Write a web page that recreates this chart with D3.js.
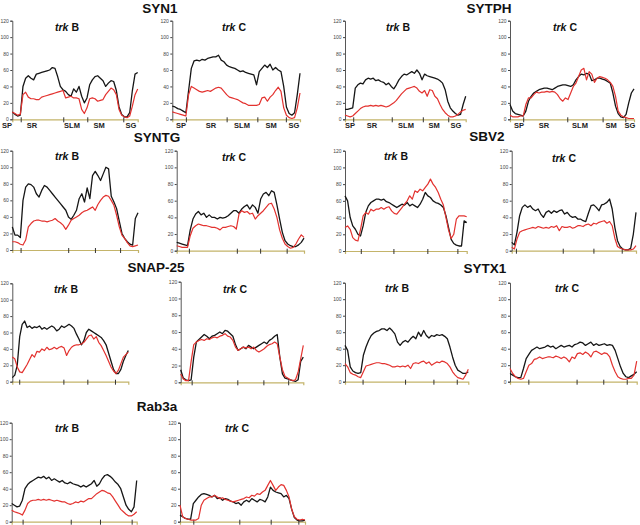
<!DOCTYPE html>
<html><head><meta charset="utf-8">
<script src="https://cdn.jsdelivr.net/npm/d3@7"></script>
<style>html,body{margin:0;padding:0;background:#fff;} svg{display:block;}</style>
</head><body>
<svg id="c" width="640" height="525"></svg>
<script>
const proteins = ['SYN1','SYTPH','SYNTG','SBV2','SNAP-25','SYTX1','Rab3a'];
const conditions = ['B','C'];
const yTicks = [0,20,40,60,80,100,120];
const layerLabels = ['SP','SR','SLM','SM','SG'];

// SYN1
const syn1B_black = [9,6,4,5,40,50,53,50,48,55,56,57,58,59,60,63,62,52,40,36,34,30,28,37,33,40,28,20,26,42,48,52,53,50,47,40,44,47,46,35,15,6,3,3,8,35,55,57];
const syn1B_red   = [9,7,5,6,30,33,27,25,25,24,24,27,28,29,30,31,32,33,34,35,26,27,28,26,26,25,12,7,14,25,26,25,22,23,24,30,34,38,36,30,12,5,3,2,4,16,30,37];
const syn1B_bounds = [3.15,19.1,28.1,41.6];
const syn1C_black = [16,15,13,12,10,8,35,62,71,72,71,73,72,74,75,76,76,78,72,70,66,64,63,62,60,58,59,57,56,55,54,42,58,62,66,63,67,60,63,60,58,40,15,7,5,8,30,56];
const syn1C_red   = [9,8,7,6,5,4,30,40,38,36,34,33,34,35,34,36,38,39,38,34,30,27,26,25,24,22,20,19,17,17,17,17,18,26,27,22,27,30,35,39,34,14,5,2,1,2,14,32];
const syn1C_bounds = [5.0,20.0,31.3,41.8];
// SYTPH
const sytphB_black = [12,12,13,14,38,42,44,43,48,50,49,50,47,48,46,45,42,44,40,37,42,48,52,55,54,56,58,56,60,56,48,55,53,52,51,50,49,47,44,36,22,14,10,7,5,6,18,28];
const sytphB_red   = [5,4,3,4,7,10,13,15,16,16,17,16,17,16,17,16,15,16,18,20,23,27,31,34,37,38,39,40,38,34,32,35,28,36,35,28,25,18,12,8,5,3,3,4,6,9,11,12];
const sytphB_bounds = [3.2,18.2,30.3,40.2];
const sytphC_black = [18,10,7,6,5,4,10,22,28,32,34,36,37,38,38,37,36,38,40,41,42,42,41,40,42,48,52,55,54,56,55,47,48,50,50,49,48,46,44,32,16,7,3,2,6,20,32,37];
const sytphC_red   = [5,3,3,3,4,4,18,26,26,30,33,32,33,33,34,33,34,33,30,25,22,26,24,32,40,44,52,60,62,48,58,55,45,50,52,51,50,48,45,40,28,10,5,3,2,1,1,1];
const sytphC_bounds = [5.0,21.7,35.1,43.7];
// SYNTG
const syntgB_black = [28,18,18,15,60,76,80,79,76,68,64,72,78,76,72,68,64,60,56,52,48,40,37,42,48,62,68,58,75,62,90,95,90,84,92,100,98,65,58,50,35,20,14,10,7,6,38,45];
const syntgB_red   = [10,10,9,7,6,12,28,32,35,36,36,35,35,34,35,36,38,35,33,30,25,30,36,38,40,42,45,47,48,50,52,48,55,60,64,66,65,60,54,42,28,18,14,9,5,4,5,6];
const syntgB_bounds = [3.1,20.9,30.9,40.3];
const syntgC_black = [10,9,8,7,6,25,38,44,47,43,45,40,43,40,40,38,40,39,40,42,45,48,48,45,50,53,55,50,55,52,45,62,68,70,66,72,70,55,38,22,12,8,6,5,5,7,10,15];
const syntgC_red   = [6,5,4,4,4,18,27,30,32,31,30,30,29,28,28,27,25,28,28,29,30,29,26,44,48,46,47,44,45,38,42,45,48,52,56,57,50,40,25,15,8,5,3,4,8,14,19,16];
const syntgC_bounds = [4.5,22.2,30.8,40.6];
// SBV2
const sbv2B_black = [66,60,40,30,26,20,18,30,46,54,58,60,62,62,61,62,59,58,56,54,52,54,56,55,58,54,56,54,52,56,62,70,66,64,60,58,57,55,52,42,28,14,9,7,6,6,36,34];
const sbv2B_red   = [28,30,26,16,13,12,26,42,46,44,50,48,50,50,52,50,52,53,48,45,44,48,52,56,60,66,62,72,70,74,72,76,80,86,80,76,70,62,55,40,25,15,20,38,42,42,42,41];
const sbv2B_bounds = [6.1,18.7,31.8,43.4];
const sbv2C_black = [10,7,22,42,52,55,52,54,50,48,50,44,40,46,48,45,48,46,48,49,44,46,42,40,41,38,38,36,35,45,54,55,52,48,55,56,58,62,50,28,12,5,2,1,1,3,20,46];
const sbv2C_red   = [4,2,14,22,24,25,26,27,28,27,29,28,27,28,27,29,28,30,24,29,28,28,29,27,28,30,30,29,31,32,30,33,32,34,35,36,33,35,30,15,5,3,2,1,1,1,2,6];
const sbv2C_bounds = [1.6,19.3,30.9,41.6];
// SNAP-25
const snapB_black = [5,8,20,55,70,74,66,68,65,67,66,68,64,66,64,66,68,66,62,64,68,66,68,70,68,65,58,52,45,50,60,64,62,60,58,56,54,50,45,35,25,15,10,10,15,25,32,38];
const snapB_red   = [30,28,18,12,11,16,21,27,33,30,37,36,40,38,42,39,40,42,40,42,43,41,32,38,42,44,45,45,46,48,52,56,57,52,55,48,44,38,32,25,18,13,10,14,22,30,33,36];
const snapB_bounds = [2.8,20.7,30.4,41.6];
const snapC_black = [15,5,3,2,3,30,48,51,54,57,55,52,55,56,58,60,58,62,61,58,55,45,38,40,42,40,44,42,40,42,44,46,48,46,50,52,55,57,30,10,5,4,3,2,1,3,25,30];
const snapC_red   = [10,4,2,2,25,45,48,50,51,50,52,51,53,54,53,55,56,58,55,54,50,42,38,40,42,41,42,40,42,38,36,38,40,43,45,46,48,46,30,15,7,5,3,2,3,12,28,44];
const snapC_bounds = [4.2,21.7,31.7,41.2];
// SYTX1
const sytx1B_black = [44,38,18,13,11,10,11,32,42,50,56,59,61,62,64,64,62,65,62,58,48,44,48,50,48,52,55,52,60,55,62,56,53,56,55,57,56,57,55,52,42,30,20,14,12,10,10,12];
const sytx1B_red   = [22,18,11,9,8,6,5,12,19,20,21,22,23,23,22,22,21,20,18,18,19,18,19,18,20,16,22,23,22,24,25,22,24,20,22,24,23,25,24,22,18,12,8,5,4,3,8,15];
const sytx1B_bounds = [6.7,22.9,33.7,42.6];
const sytx1C_black = [10,8,6,5,5,16,28,33,38,40,42,40,41,42,44,42,43,40,42,44,42,43,44,42,45,46,48,47,44,46,48,44,46,44,45,46,44,45,44,38,28,18,10,6,5,7,9,12];
const sytx1C_red   = [16,10,6,4,3,4,12,20,22,27,28,30,28,29,30,30,29,31,30,28,30,28,24,30,28,34,35,33,36,34,30,36,37,35,33,35,34,30,20,12,6,4,3,3,4,4,8,25];
const sytx1C_bounds = [6.8,24.7,34.6,43.3];
// Rab3a
const rab3aB_black = [22,20,18,19,26,40,45,48,50,52,54,53,55,52,54,50,52,50,48,50,47,46,48,46,45,44,42,44,42,44,46,50,43,46,52,56,57,55,52,48,45,40,30,20,15,12,18,50];
const rab3aB_red   = [14,12,11,10,8,14,22,25,26,26,27,26,27,26,27,26,25,26,25,24,24,22,21,22,24,23,25,24,26,28,28,31,34,36,38,37,35,34,30,25,20,15,12,9,7,7,9,12];
const rab3aB_bounds = [4.1,22.2,33.2,45.1];
const rab3aC_black = [8,6,4,3,3,22,26,30,33,34,33,32,30,32,28,29,26,28,27,25,24,22,23,20,24,26,24,28,26,24,27,26,24,30,42,38,36,35,34,30,32,28,15,5,2,1,1,2];
const rab3aC_red   = [20,6,4,3,2,2,2,4,20,26,28,30,30,32,30,28,29,27,26,25,24,25,26,27,28,30,29,32,31,34,33,36,38,44,50,44,38,42,45,44,38,30,15,6,3,2,3,2];
const rab3aC_bounds = [5.0,22.3,34.1,44.5];

// layout (pixel geometry only)
const titlePos = [[160,13],[489,13],[157,142],[487,141],[156,272],[485,273],[157,411]];
const panels = [
  {p:0,c:0,black:syn1B_black,red:syn1B_red,bounds:syn1B_bounds,x0:12.3,x1:137.7,yT:20.7,yB:119.3,lab:[67,31],layerX:[7,32,72,99,131]},
  {p:0,c:1,black:syn1C_black,red:syn1C_red,bounds:syn1C_bounds,x0:172.3,x1:300,yT:20.7,yB:119.3,lab:[234,31],layerX:[181,211,242,271,294]},
  {p:1,c:0,black:sytphB_black,red:sytphB_red,bounds:sytphB_bounds,x0:345,x1:465.7,yT:20.7,yB:119.3,lab:[398,31],layerX:[350,372,406,434,456]},
  {p:1,c:1,black:sytphC_black,red:sytphC_red,bounds:sytphC_bounds,x0:510,x1:634,yT:20.7,yB:119.3,lab:[565,31],layerX:[519,544,580,611,630]},
  {p:2,c:0,black:syntgB_black,red:syntgB_red,bounds:syntgB_bounds,x0:12.3,x1:138,yT:150.7,yB:250,lab:[67,160]},
  {p:2,c:1,black:syntgC_black,red:syntgC_red,bounds:syntgC_bounds,x0:176.7,x1:304,yT:150.7,yB:250.7,lab:[234,161]},
  {p:3,c:0,black:sbv2B_black,red:sbv2B_red,bounds:sbv2B_bounds,x0:345,x1:466.7,yT:150.7,yB:251,lab:[396,160]},
  {p:3,c:1,black:sbv2C_black,red:sbv2C_red,bounds:sbv2C_bounds,x0:511.7,x1:636,yT:150.7,yB:250.7,lab:[564,162]},
  {p:4,c:0,black:snapB_black,red:snapB_red,bounds:snapB_bounds,x0:12.3,x1:128.3,yT:283.3,yB:381.7,lab:[66,293]},
  {p:4,c:1,black:snapC_black,red:snapC_red,bounds:snapC_bounds,x0:180.7,x1:303.3,yT:281.7,yB:382.3,lab:[235,293]},
  {p:5,c:0,black:sytx1B_black,red:sytx1B_red,bounds:sytx1B_bounds,x0:345,x1:468.3,yT:282.7,yB:381.7,lab:[397,292]},
  {p:5,c:1,black:sytx1C_black,red:sytx1C_red,bounds:sytx1C_bounds,x0:510,x1:636.7,yT:282.7,yB:381.7,lab:[567,292]},
  {p:6,c:0,black:rab3aB_black,red:rab3aB_red,bounds:rab3aB_bounds,x0:11.7,x1:136.7,yT:422.7,yB:521.7,lab:[67,432]},
  {p:6,c:1,black:rab3aC_black,red:rab3aC_red,bounds:rab3aC_bounds,x0:180,x1:305,yT:422.7,yB:521.7,lab:[237,432]}
];

const svg = d3.select('#c');
const FONT = 'Liberation Sans, Arial, Helvetica, sans-serif';

proteins.forEach((name,i)=>{
  svg.append('text').attr('x',titlePos[i][0]).attr('y',titlePos[i][1])
    .attr('text-anchor','middle').attr('font-family',FONT).attr('font-weight','bold')
    .attr('font-size',13.5).attr('fill','#111').text(name);
});

panels.forEach(P=>{
  const n = P.black.length;
  const x = d3.scaleLinear().domain([0,n-1]).range([P.x0,P.x1]);
  const y = d3.scaleLinear().domain([0,120]).range([P.yB,P.yT]);
  const g = svg.append('g');

  // x axis
  const xa = g.append('g').attr('transform',`translate(0,${P.yB})`)
    .call(d3.axisBottom(x).tickValues(P.bounds).tickSize(3).tickFormat(''));
  xa.select('.domain').attr('stroke','#c4b46a').attr('stroke-width',1.2);
  xa.selectAll('.tick line').attr('y1',-2).attr('stroke','#333');

  // y axis
  const ya = g.append('g').attr('transform',`translate(${P.x0},0)`)
    .call(d3.axisLeft(y).tickValues(yTicks).tickSize(2).tickPadding(1.5));
  ya.select('.domain').attr('stroke','#444').attr('stroke-width',0.9);
  ya.selectAll('.tick line').attr('stroke','#444');
  ya.selectAll('.tick text').attr('font-family',FONT).attr('font-size',5).attr('fill','#444');

  const line = d3.line().x((d,i)=>x(i)).y(d=>y(d));
  g.append('path').datum(P.black).attr('d',line).attr('fill','none')
    .attr('stroke','#161616').attr('stroke-width',1.3).attr('stroke-linejoin','round');
  g.append('path').datum(P.red).attr('d',line).attr('fill','none')
    .attr('stroke','#e3322f').attr('stroke-width',1.2).attr('stroke-linejoin','round');

  // condition label
  const t = g.append('text').attr('x',P.lab[0]).attr('y',P.lab[1]).attr('text-anchor','middle')
    .attr('font-family',FONT).attr('font-weight','bold').attr('font-size',10.5).attr('fill','#111');
  t.append('tspan').attr('font-style','italic').text('trk');
  t.append('tspan').text(' ' + conditions[P.c]);

  if (P.layerX) {
    layerLabels.forEach((L,k)=>{
      g.append('text').attr('x',P.layerX[k]).attr('y',P.yB+8.8).attr('text-anchor','middle')
        .attr('font-family',FONT).attr('font-weight','bold').attr('font-size',7.5)
        .attr('fill','#222').text(L);
    });
  }
});
</script>
</body></html>
